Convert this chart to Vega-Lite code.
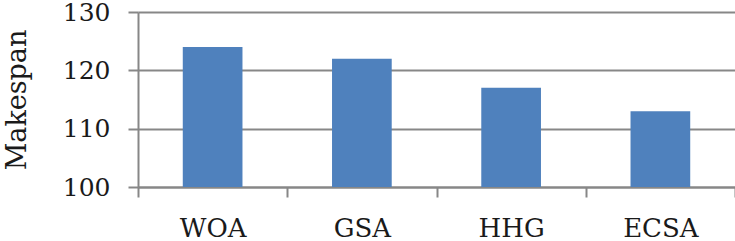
{
  "$schema": "https://vega.github.io/schema/vega-lite/v6.json",
  "width": 597,
  "height": 175,
  "autosize": "none",
  "padding": {"left": 138, "top": 12, "right": 0, "bottom": 54},
  "background": "white",
  "config": {
    "view": {"stroke": null},
    "font": "DejaVu Serif"
  },
  "data": {
    "values": [
      {"algo": "WOA", "makespan": 124},
      {"algo": "GSA", "makespan": 122},
      {"algo": "HHG", "makespan": 117},
      {"algo": "ECSA", "makespan": 113}
    ]
  },
  "mark": {"type": "bar", "color": "#4f81bd", "width": {"band": 0.4}},
  "encoding": {
    "x": {
      "field": "algo",
      "type": "nominal",
      "sort": null,
      "scale": {"paddingInner": 0, "paddingOuter": 0},
      "axis": {
        "title": null,
        "labelAngle": 0,
        "labelFont": "DejaVu Serif",
        "labelFontSize": 26,
        "labelColor": "#1a1a1a",
        "labelPadding": 18,
        "tickBand": "extent",
        "tickSize": 10,
        "tickColor": "#878787",
        "tickWidth": 2,
        "domainColor": "#878787",
        "domainWidth": 2,
        "grid": false
      }
    },
    "y": {
      "field": "makespan",
      "type": "quantitative",
      "scale": {"domain": [100, 130], "zero": false, "nice": false},
      "axis": {
        "title": "Makespan",
        "titleFont": "DejaVu Serif",
        "titleFontSize": 27,
        "titleFontWeight": "normal",
        "titleColor": "#1a1a1a",
        "titlePadding": 31,
        "values": [100, 110, 120, 130],
        "labelFont": "DejaVu Serif",
        "labelFontSize": 25,
        "labelColor": "#1a1a1a",
        "labelPadding": 18,
        "tickSize": 10,
        "tickColor": "#878787",
        "tickWidth": 2,
        "domainColor": "#878787",
        "domainWidth": 2,
        "gridColor": "#878787",
        "gridWidth": 2,
        "gridOpacity": 1
      }
    },
    "y2": {"datum": 100}
  }
}
